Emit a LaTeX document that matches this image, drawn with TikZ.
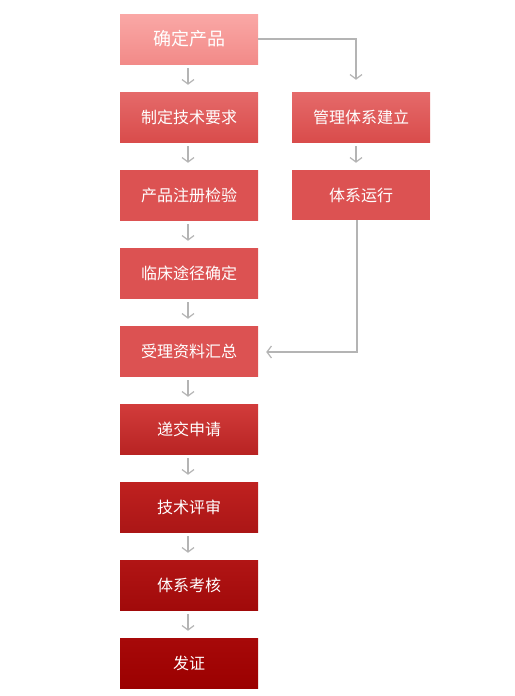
\documentclass[tikz,border=0pt]{standalone}
\usepackage{fontspec}
\newfontfamily\cjk{Noto Sans CJK SC}
\usetikzlibrary{arrows.meta}
\definecolor{lineg}{HTML}{B4B4B4}
\definecolor{ta}{HTML}{FAA8A6}\definecolor{ba}{HTML}{F28A88}
\definecolor{tb}{HTML}{E56A6A}\definecolor{bb}{HTML}{D94C4B}
\definecolor{tc}{HTML}{DC5252}\definecolor{bc}{HTML}{DC5252}
\definecolor{td}{HTML}{D23C3B}\definecolor{bd}{HTML}{B82323}
\definecolor{te}{HTML}{BF2120}\definecolor{be}{HTML}{AB1616}
\definecolor{tf}{HTML}{B11515}\definecolor{bf}{HTML}{A10A0A}
\definecolor{tg}{HTML}{A70909}\definecolor{bg}{HTML}{9B0000}
\tikzset{
    stepbox/.style={minimum width=138pt, minimum height=50pt, inner sep=0pt,
        text=white, font=\cjk\fontsize{16}{19}\selectfont},
    arr/.style={draw=lineg, line width=1.2pt,
        -{Straight Barb[length=4.5pt,width=12pt,line width=1.2pt]}}
}
\begin{document}
\begin{tikzpicture}[x=1pt,y=-1pt]
    \useasboundingbox (0,0) rectangle (514,696);
    % left column
    \node[stepbox, top color=ta, bottom color=ba,
        font=\cjk\fontsize{18}{21}\selectfont] (s1) at (189,39) {确定产品};
    \foreach \i/\txt/\c in {2/制定技术要求/b,3/产品注册检验/c,
        4/临床途径确定/c,5/受理资料汇总/c,6/递交申请/d,7/技术评审/e,
        8/体系考核/f,9/发证/g}
        \node[stepbox, top color=t\c, bottom color=b\c] (s\i) at (189,{39+78*(\i-1)}) {\txt};
    % right column
    \node[stepbox, top color=tb, bottom color=bb] (m1) at (361,117) {管理体系建立};
    \node[stepbox, fill=tc] (m2) at (361,195) {体系运行};
    
    \foreach \i [evaluate=\i as \j using int(\i+1)] in {1,...,8}
        \draw[arr] ([xshift=-1pt,yshift=-4pt]s\i.south) -- ([xshift=-1pt,yshift=7pt]s\j.north);
    \draw[arr] ([xshift=-5pt,yshift=-4pt]m1.south) -- ([xshift=-5pt,yshift=7pt]m2.north);
    
    \draw[arr] (s1.east) -| ([xshift=-5pt,yshift=12pt]m1.north);
    \draw[arr] ([xshift=-4pt]m2.south) |- ([xshift=8pt,yshift=-1pt]s5.east);
\end{tikzpicture}
\end{document}
